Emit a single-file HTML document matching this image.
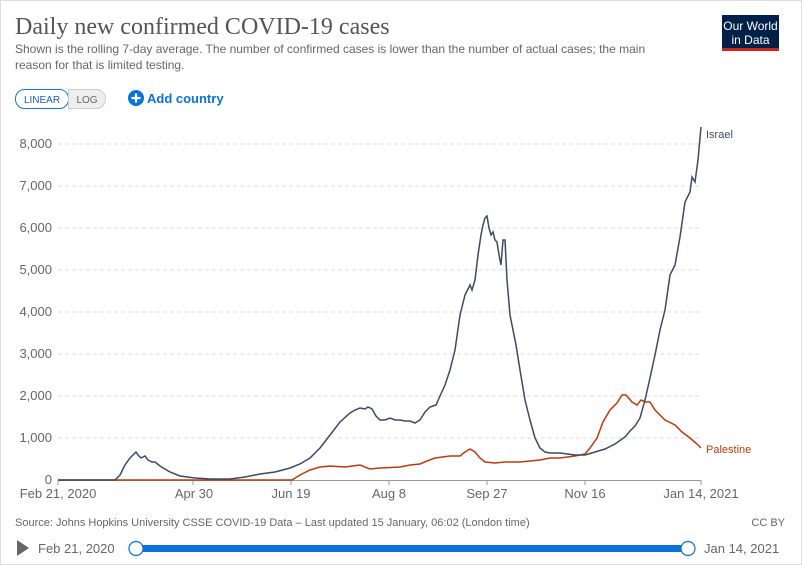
<!DOCTYPE html>
<html><head><meta charset="utf-8"><style>
body{margin:0;background:#fff;width:802px;height:565px;overflow:hidden;font-family:"Liberation Sans",sans-serif;}
.frame{position:absolute;left:0;top:0;width:800px;height:563px;border:1px solid #ddd;}
</style></head><body><div class="frame"></div>
<svg width="802" height="565" style="position:absolute;left:0;top:0" font-family="Liberation Sans, sans-serif">
<text x="15" y="34" font-family="Liberation Serif, serif" font-size="24" fill="#555">Daily new confirmed COVID-19 cases</text>
<text x="15" y="53" font-size="12" fill="#666">Shown is the rolling 7-day average. The number of confirmed cases is lower than the number of actual cases; the main</text>
<text x="15" y="69" font-size="12" fill="#666">reason for that is limited testing.</text>
<rect x="722" y="15" width="57" height="33" fill="#002147"/>
<rect x="722" y="48" width="57" height="3" fill="#ce261e"/>
<text x="750.5" y="30" font-size="12" fill="#fff" text-anchor="middle">Our World</text>
<text x="750.5" y="44" font-size="12" fill="#fff" text-anchor="middle">in Data</text>
<rect x="15.5" y="89.5" width="53" height="19" rx="9" fill="#fff" stroke="#1a73e8"/>
<path d="M68.5 89.5 H96 a9.5 9.5 0 0 1 0 19 H68.5 Z" fill="#eee" stroke="#ccc"/>
<text x="42" y="103" font-size="10" fill="#1a5fb4" text-anchor="middle">LINEAR</text>
<text x="87" y="103" font-size="10" fill="#666" text-anchor="middle">LOG</text>
<circle cx="136" cy="98" r="8" fill="#0b72d9"/>
<path d="M131.5 98h9M136 93.5v9" stroke="#fff" stroke-width="2.2"/>
<text x="147" y="103" font-size="13" fill="#0b72d9" font-weight="bold">Add country</text>
<g stroke="#ddd" stroke-dasharray="4,3">
<line x1="58" x2="701" y1="438" y2="438"/><line x1="58" x2="701" y1="396" y2="396"/><line x1="58" x2="701" y1="354" y2="354"/><line x1="58" x2="701" y1="312" y2="312"/><line x1="58" x2="701" y1="270" y2="270"/><line x1="58" x2="701" y1="228" y2="228"/><line x1="58" x2="701" y1="186" y2="186"/><line x1="58" x2="701" y1="144" y2="144"/>
</g>
<g font-size="13" fill="#666" text-anchor="end">
<text x="52" y="484">0</text><text x="52" y="442">1,000</text><text x="52" y="400">2,000</text><text x="52" y="358">3,000</text><text x="52" y="316">4,000</text><text x="52" y="274">5,000</text><text x="52" y="232">6,000</text><text x="52" y="190">7,000</text><text x="52" y="148">8,000</text>
</g>
<line x1="58" x2="701" y1="480.5" y2="480.5" stroke="#999"/>
<g stroke="#999"><line x1="58" x2="58" y1="480" y2="485"/><line x1="193" x2="193" y1="480" y2="485"/><line x1="291" x2="291" y1="480" y2="485"/><line x1="389" x2="389" y1="480" y2="485"/><line x1="487" x2="487" y1="480" y2="485"/><line x1="585" x2="585" y1="480" y2="485"/><line x1="701" x2="701" y1="480" y2="485"/></g>
<g font-size="13" fill="#666" text-anchor="middle">
<text x="58" y="498">Feb 21, 2020</text><text x="194" y="498">Apr 30</text><text x="291" y="498">Jun 19</text><text x="389" y="498">Aug 8</text><text x="487" y="498">Sep 27</text><text x="585" y="498">Nov 16</text><text x="701" y="498">Jan 14, 2021</text>
</g>
<polyline fill="none" stroke="#c0390b" stroke-width="1.5" points="58,480 292,480 300,475 310,470 320,467 330,466 345,467 360,465 370,469 380,468 400,467 410,465 420,464 427,461 435,458 450,456 460,456 465,452 470,449 475,452 480,458 485,462 495,463 505,462 520,462 530,461 540,460 550,458 560,458 575,456 585,454 590,448 597,438 603,422 610,410 617,403 622,395 626,395 632,402 637,405 641,400 646,402 650,402 655,410 665,420 675,425 682,432 690,438 697,444 701,448"/>
<polyline fill="none" stroke="#3c4a66" stroke-width="1.5" points="58,480 115,480 120,475 125,465 130,458 133,455 136,452 138,455 141,458 145,456 148,460 152,462 155,462 160,466 170,472 180,476 195,478 210,479 230,479 245,477 260,474 275,472 290,468 300,464 310,458 320,448 330,435 340,422 350,413 355,410 360,408 365,409 368,407 372,409 376,416 380,420 385,420 390,418 395,420 400,420 405,421 410,421 415,423 420,420 425,412 430,407 436,405 440,396 445,385 450,370 455,350 460,315 465,295 470,285 472,290 475,280 478,255 481,235 483,225 485,218 487,216 489,228 491,235 493,232 495,240 497,242 499,255 501,265 503,240 505,240 507,280 510,315 513,330 516,345 520,370 525,400 530,420 535,438 540,448 545,452 550,453 560,453 575,455 585,455 595,452 605,449 615,444 625,437 630,431 635,426 640,418 645,400 650,378 655,355 660,330 665,310 670,275 675,265 680,237 685,202 690,192 692,177 695,182 698,160 701,127"/>
<text x="706" y="138" font-size="11" fill="#3c4a66">Israel</text>
<text x="706" y="453" font-size="11" fill="#c0390b">Palestine</text>
<text x="15" y="526" font-size="11" fill="#666">Source: Johns Hopkins University CSSE COVID-19 Data – Last updated 15 January, 06:02 (London time)</text>
<text x="785" y="526" font-size="11" fill="#666" text-anchor="end">CC BY</text>
<path d="M17 540 L29 548 L17 556 Z" fill="#666"/>
<text x="38" y="553" font-size="13" fill="#666">Feb 21, 2020</text>
<rect x="136" y="545" width="552" height="7" fill="#0b72d9"/>
<circle cx="136" cy="548.5" r="7" fill="#fff" stroke="#0b72d9" stroke-width="1.2"/>
<circle cx="688" cy="548.5" r="7" fill="#fff" stroke="#0b72d9" stroke-width="1.2"/>
<text x="704" y="553" font-size="13" fill="#666">Jan 14, 2021</text>
</svg></body></html>
